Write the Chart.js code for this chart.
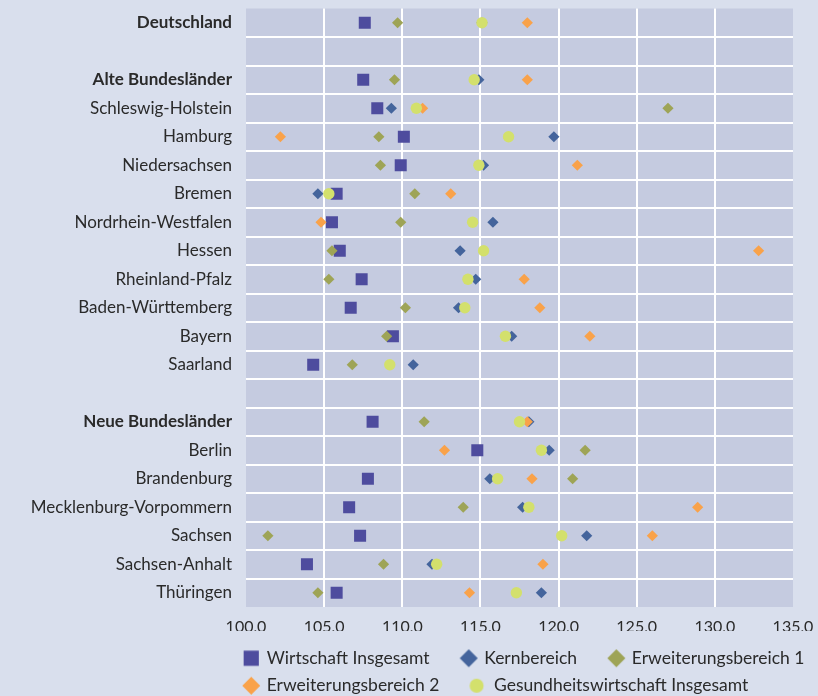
<!DOCTYPE html>
<html><head><meta charset="utf-8">
<script src="https://cdn.jsdelivr.net/npm/chart.js@4/dist/chart.umd.min.js"></script>
<style>html,body{margin:0;padding:0;background:#d9dfed;}</style>
</head><body>
<canvas id="c" width="818" height="696"></canvas>
<script>
const categories = ['Deutschland','','Alte Bundesländer','Schleswig-Holstein','Hamburg','Niedersachsen','Bremen','Nordrhein-Westfalen','Hessen','Rheinland-Pfalz','Baden-Württemberg','Bayern','Saarland','','Neue Bundesländer','Berlin','Brandenburg','Mecklenburg-Vorpommern','Sachsen','Sachsen-Anhalt','Thüringen'];
const boldCategories = ['Deutschland','Alte Bundesländer','Neue Bundesländer'];
const seriesNames = ['Wirtschaft Insgesamt','Kernbereich','Erweiterungsbereich 1','Erweiterungsbereich 2','Gesundheitswirtschaft Insgesamt'];
const wirtschaft   = [107.6,null,107.5,108.4,110.1,109.9,105.8,105.5,106.0,107.4,106.7,109.4,104.3,null,108.1,114.8,107.8,106.6,107.3,103.9,105.8];
const kernbereich  = [115.1,null,114.9,109.3,119.7,115.2,104.6,115.8,113.7,114.7,113.6,117.0,110.7,null,118.1,119.4,115.6,117.7,121.8,111.9,118.9];
const erweiterung1 = [109.7,null,109.5,127.0,108.5,108.6,110.8,109.9,105.5,105.3,110.2,109.0,106.8,null,111.4,121.7,120.9,113.9,101.4,108.8,104.6];
const erweiterung2 = [118.0,null,118.0,111.3,102.2,121.2,113.1,104.8,132.8,117.8,118.8,122.0,null,null,118.0,112.7,118.3,128.9,126.0,119.0,114.3];
const gesundheit   = [115.1,null,114.6,110.9,116.8,114.9,105.3,114.5,115.2,114.2,114.0,116.6,109.2,null,117.5,118.9,116.1,118.1,120.2,112.2,117.3];
const xTickValues = [100,105,110,115,120,125,130,135];

const colors = ['#4e4c9e','#44649c','#9ea456','#f9a24a','#d3e06c'];
const styles = ['rect','rectRot','rectRot','rectRot','circle'];
const radii = [8.5,5.6,5.6,5.6,5.7];
const seriesData = [wirtschaft,kernbereich,erweiterung1,erweiterung2,gesundheit];
const FONT = 'Lato';
const TEXT = '#2a2a2a';
const LEG_FONT = 17.5, LEG_PAD = 10, LEG_BOX = 36;

function markerImg(i){
  const W = 42, H = 22, cx = 32.25 - (i===4?2:0), cy = H/2;
  const cv = document.createElement('canvas'); cv.width = W; cv.height = H;
  const g = cv.getContext('2d'); g.fillStyle = colors[i]; g.beginPath();
  if (i === 0) { g.rect(cx-7.6, cy-7.6, 15.2, 15.2); }
  else if (i === 4) { g.arc(cx, cy, 7, 0, Math.PI*2); }
  else { g.moveTo(cx-9,cy); g.lineTo(cx,cy-9); g.lineTo(cx+9,cy); g.lineTo(cx,cy+9); g.closePath(); }
  g.fill();
  return cv;
}
const legendMarkers = [0,1,2,3,4].map(markerImg);

const bgPlugin = {
  id: 'bg',
  beforeDraw(chart){
    const {ctx, chartArea:a} = chart;
    ctx.save();
    ctx.fillStyle = '#d9dfed'; ctx.fillRect(0,0,chart.width,chart.height);
    ctx.fillStyle = '#c5cbe0'; ctx.fillRect(a.left,a.top,a.right-a.left,a.bottom-a.top);
    ctx.restore();
    const lg = chart.legend;
    if (lg) { lg.left = 212; lg.right = 818; lg.top = 639.5; }
  }
};

new Chart(document.getElementById('c'), {
  type: 'line',
  data: {
    labels: categories,
    datasets: seriesNames.map((name,i) => ({
      label: name,
      data: seriesData[i],
      showLine: false,
      pointStyle: styles[i],
      pointRadius: radii[i],
      pointBackgroundColor: colors[i],
      pointBorderColor: colors[i],
      pointBorderWidth: 0,
      backgroundColor: colors[i],
      borderColor: colors[i],
      order: 4 - i
    }))
  },
  options: {
    indexAxis: 'y',
    responsive: false,
    animation: false,
    events: [],
    layout: { padding: { left: 0, right: 25, top: 7, bottom: 0 } },
    scales: {
      y: {
        type: 'category',
        offset: true,
        border: { display: false },
        grid: {
          offset: true,
          drawTicks: false,
          lineWidth: 2,
          color: ctx => (ctx.type !== 'tick' || ctx.index === 0) ? 'rgba(0,0,0,0)' : '#ffffff'
        },
        ticks: {
          padding: 14,
          color: TEXT,
          autoSkip: false,
          font: ctx => ({ family: FONT, size: 17, weight: boldCategories.includes(categories[ctx.index]) ? 'bold' : 'normal' })
        },
        afterFit(scale){ scale.width = 246; scale.paddingTop = 0; scale.paddingBottom = 0; }
      },
      x: {
        type: 'linear',
        min: 100, max: 135,
        border: { display: false },
        afterBuildTicks(scale){ scale.ticks = xTickValues.map(v => ({ value: v })); },
        grid: {
          drawTicks: false,
          lineWidth: 2,
          color: ctx => (ctx.tick && (ctx.tick.value === 100 || ctx.tick.value === 135)) ? 'rgba(0,0,0,0)' : '#ffffff'
        },
        ticks: {
          padding: 10,
          color: TEXT,
          font: { family: FONT, size: 16 },
          callback: v => Number(v).toFixed(1).replace('.', ',')
        },
        afterFit(scale){
          const lh = scale.chart.legend ? scale.chart.legend.height : 0;
          scale.height = 696 - 607 - lh;
          scale.paddingLeft = 0; scale.paddingRight = 0;
        }
      }
    },
    plugins: {
      tooltip: { enabled: false },
      legend: {
        position: 'bottom',
        align: 'start',
        labels: {
          usePointStyle: true,
          pointStyleWidth: LEG_BOX,
          boxHeight: LEG_FONT,
          padding: LEG_PAD,
          color: TEXT,
          font: { family: FONT, size: LEG_FONT },
          sort: (a,b) => a.datasetIndex - b.datasetIndex,
          generateLabels(chart){
            const items = Chart.defaults.plugins.legend.labels.generateLabels(chart);
            items.forEach(it => { it.pointStyle = legendMarkers[it.datasetIndex]; it.fontColor = TEXT; });
            return items;
          }
        }
      }
    }
  },
  plugins: [bgPlugin]
});
</script>
</body></html>
